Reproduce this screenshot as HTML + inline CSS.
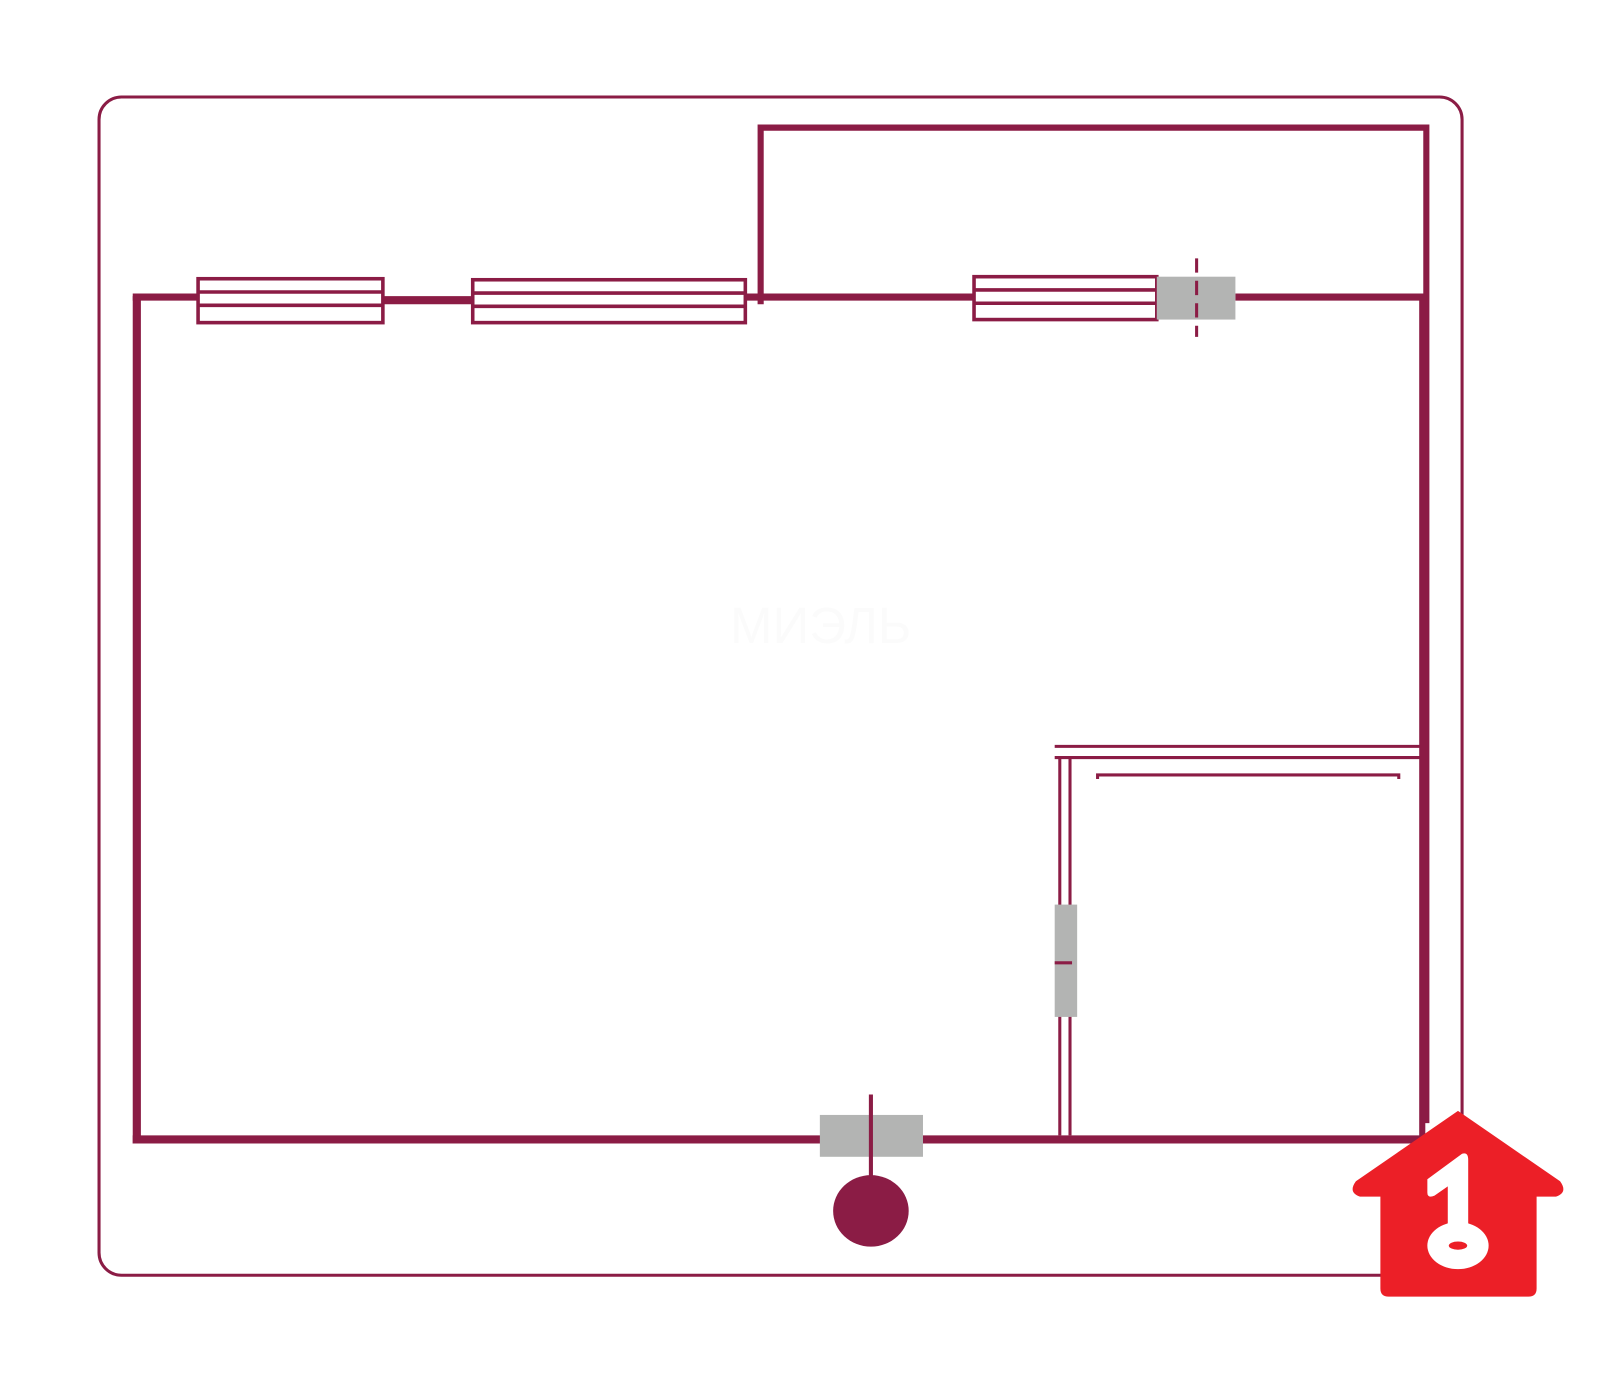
<!DOCTYPE html>
<html><head><meta charset="utf-8"><style>html,body{margin:0;padding:0;background:#fff}</style></head>
<body>
<svg width="1600" height="1374" viewBox="0 0 1600 1374" xmlns="http://www.w3.org/2000/svg">
<g transform="scale(1.021)">
<g fill="none" stroke="#8b1c45">
<rect x="97" y="95" width="1335" height="1154" rx="22" stroke-width="3"/>
<polyline points="745,298 745,125 1397,125 1397,1100" stroke-width="6"/>
<line x1="1393" y1="292" x2="1393" y2="1118" stroke-width="6"/>
<line x1="134" y1="290" x2="134" y2="1120" stroke-width="8"/>
<line x1="130" y1="1116" x2="1396" y2="1116" stroke-width="8"/>
<line x1="130" y1="291" x2="193" y2="291" stroke-width="7"/>
<line x1="375" y1="294" x2="462" y2="294" stroke-width="8"/>
<line x1="730" y1="291" x2="953" y2="291" stroke-width="7"/>
<line x1="1210" y1="291" x2="1397" y2="291" stroke-width="7"/>
<g stroke-width="3.5">
<rect x="194" y="273" width="181" height="43"/>
<line x1="194" y1="286" x2="375" y2="286"/><line x1="194" y1="299" x2="375" y2="299"/>
<rect x="463" y="274" width="267" height="42"/>
<line x1="463" y1="287" x2="730" y2="287"/><line x1="463" y1="300" x2="730" y2="300"/>
<rect x="954" y="271" width="179" height="42"/>
<line x1="954" y1="284" x2="1133" y2="284"/><line x1="954" y1="297" x2="1133" y2="297"/>
</g>
<g stroke-width="3">
<line x1="1033" y1="731" x2="1391" y2="731"/>
<line x1="1033" y1="742" x2="1391" y2="742"/>
<line x1="1038" y1="742" x2="1038" y2="1112"/>
<line x1="1048" y1="742" x2="1048" y2="1112"/>
<polyline points="1075,763 1075,759 1370,759 1370,763"/>
</g>
</g>
<rect x="1133" y="271" width="77" height="42" fill="#b3b4b3"/>
<line x1="1172" y1="253" x2="1172" y2="330" stroke="#8b1c45" stroke-width="3" stroke-dasharray="14,8"/>
<rect x="1033" y="886" width="22" height="110" fill="#b3b4b3"/>
<line x1="1033" y1="943" x2="1050" y2="943" stroke="#8b1c45" stroke-width="3"/>
<rect x="803" y="1092" width="101" height="41" fill="#b3b4b3"/>
<line x1="853" y1="1072" x2="853" y2="1155" stroke="#8b1c45" stroke-width="4"/>
<ellipse cx="853" cy="1186" rx="37" ry="35" fill="#8b1c45"/>
<text x="715" y="630" font-family="Liberation Sans, sans-serif" font-size="50" fill="#fbfbfb">МИЭЛЬ</text>
<path fill="#ec1f27" d="M1428,1088 L1528,1157 Q1536,1168 1524,1172 L1505,1172 L1505,1262 Q1505,1270 1497,1270 L1360,1270 Q1352,1270 1352,1262 L1352,1172 L1332,1172 Q1320,1168 1328,1157 Z"/>
<g fill="#fff">
<path d="M1398,1155 L1432,1130 Q1438,1128 1438,1136 L1438,1200 L1418,1200 L1418,1162 L1405,1171 Q1398,1174 1398,1168 Z"/>
<ellipse cx="1428" cy="1220" rx="30" ry="23"/>
</g>
<ellipse cx="1428" cy="1220" rx="9" ry="4" fill="#ec1f27"/>
</g>
</svg>
</body></html>
